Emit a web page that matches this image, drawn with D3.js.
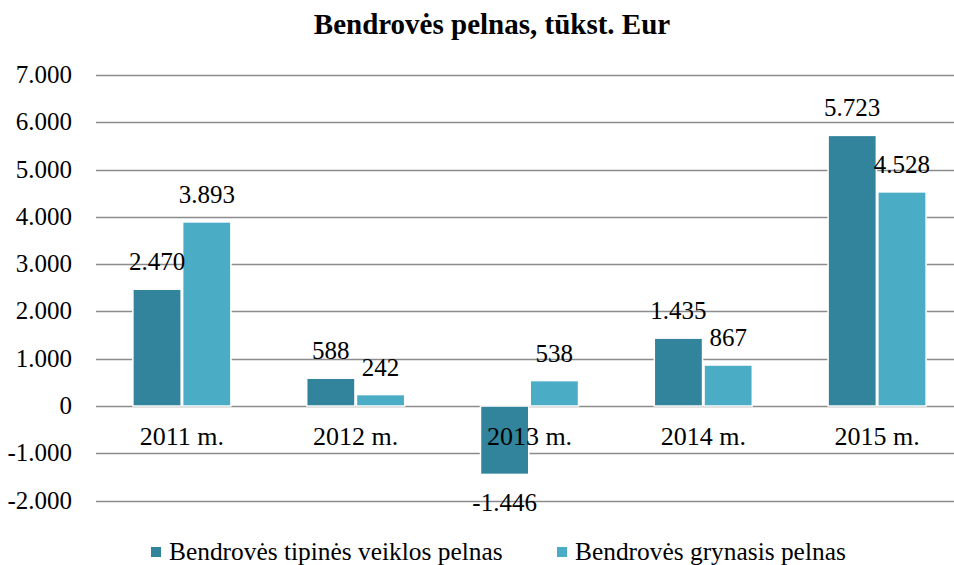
<!DOCTYPE html>
<html>
<head>
<meta charset="utf-8">
<script src="https://cdn.jsdelivr.net/npm/d3@7"></script>
<style>
  body { margin: 0; background: #fff; }
  svg text { font-family: "Liberation Serif", "Times New Roman", serif; fill: #000; }
</style>
</head>
<body>
<div class="chart"></div>
<script>
var years = ["2011 m.", "2012 m.", "2013 m.", "2014 m.", "2015 m."];
var seriesNames = ["Bendrovės tipinės veiklos pelnas", "Bendrovės grynasis pelnas"];
var operating = [2470, 588, -1446, 1435, 5723];
var net = [3893, 242, 538, 867, 4528];
var yTicks = [-2000, -1000, 0, 1000, 2000, 3000, 4000, 5000, 6000, 7000];

var width = 954,
	height = 565;

var colors = ["#31849b", "#4bacc6"];

var fmt = function(v) {
	return d3.format(",")(v).replace(/,/g, ".").replace("\u2212", "-");
};

var svg = d3.select(".chart").append("svg")
	.attr("width", width)
	.attr("height", height);

var x = d3.scaleBand()
	.domain(years)
	.range([95, 964]);

var inner = d3.scaleBand()
	.domain([0, 1])
	.range([x.bandwidth() / 2 - 49, x.bandwidth() / 2 + 49])
	.paddingInner(0.03);

var y = d3.scaleLinear()
	.domain([-2000, 7000])
	.range([500.6, 75]);

// title
svg.append("text")
	.attr("x", 492)
	.attr("y", 34)
	.attr("text-anchor", "middle")
	.style("font-size", "29px")
	.style("font-weight", "bold")
	.text("Bendrovės pelnas, tūkst. Eur");

// gridlines
svg.append("g").selectAll("line")
	.data(yTicks)
	.enter().append("line")
	.attr("x1", 96)
	.attr("x2", width)
	.attr("y1", function(d) { return Math.round(y(d)) + 0.5; })
	.attr("y2", function(d) { return Math.round(y(d)) + 0.5; })
	.attr("stroke", "#8c8c8c")
	.attr("stroke-width", 1.3);

// y labels
svg.append("g").selectAll("text")
	.data(yTicks)
	.enter().append("text")
	.attr("x", 72)
	.attr("y", function(d) { return y(d) + 8; })
	.attr("text-anchor", "end")
	.style("font-size", "25px")
	.text(fmt);

var rows = years.map(function(yr, i) {
	return { year: yr, values: [operating[i], net[i]] };
});

var groups = svg.append("g").selectAll("g")
	.data(rows)
	.enter().append("g")
	.attr("transform", function(d) { return "translate(" + x(d.year) + ",0)"; });

groups.selectAll("rect")
	.data(function(d) { return d.values.map(function(v, k) { return { k: k, v: v }; }); })
	.enter().append("rect")
	.attr("x", function(d) { return inner(d.k); })
	.attr("width", inner.bandwidth())
	.attr("y", function(d) { return y(Math.max(0, d.v)); })
	.attr("height", function(d) { return Math.abs(y(d.v) - y(0)); })
	.attr("fill", function(d) { return colors[d.k]; })
	.attr("stroke", "#fff")
	.attr("stroke-width", 1.5);

// category labels
svg.append("g").selectAll("text")
	.data(years)
	.enter().append("text")
	.attr("x", function(d) { return x(d) + x.bandwidth() / 2; })
	.attr("y", 445)
	.attr("text-anchor", "middle")
	.style("font-size", "26px")
	.text(function(d) { return d; });

// value labels
groups.selectAll("text.val")
	.data(function(d) { return d.values.map(function(v, k) { return { k: k, v: v }; }); })
	.enter().append("text")
	.attr("class", "val")
	.attr("x", function(d) { return inner(d.k) + inner.bandwidth() / 2; })
	.attr("y", function(d) { return d.v >= 0 ? y(d.v) - 19 : y(d.v) + 37; })
	.attr("text-anchor", "middle")
	.style("font-size", "25px")
	.text(function(d) { return fmt(d.v); });

// legend
var legendX = [151, 557];
var legend = svg.append("g").selectAll("g")
	.data(seriesNames)
	.enter().append("g")
	.attr("transform", function(d, i) { return "translate(" + legendX[i] + ",547)"; });

legend.append("rect")
	.attr("width", 10)
	.attr("height", 10)
	.attr("fill", function(d, i) { return colors[i]; });

legend.append("text")
	.attr("x", 18)
	.attr("y", 13)
	.style("font-size", "25.4px")
	.text(function(d) { return d; });
</script>
</body>
</html>
